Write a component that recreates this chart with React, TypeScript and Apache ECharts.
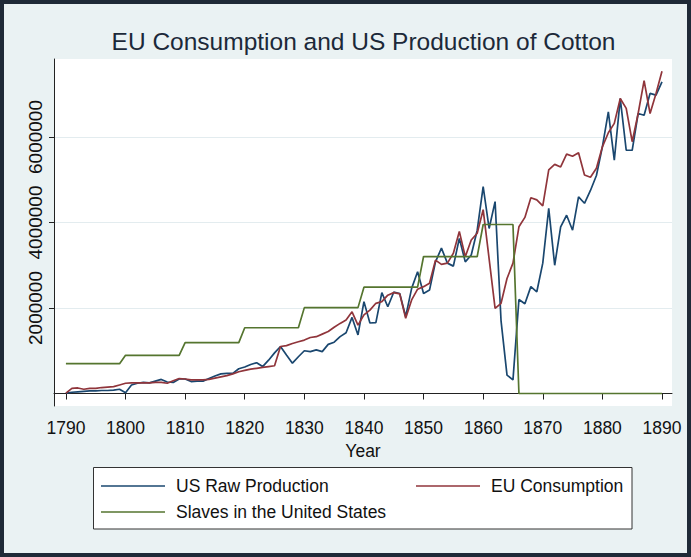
import React, { useEffect, useRef } from "react";
import * as echarts from "echarts";

const years = [
  1790, 1791, 1792, 1793, 1794, 1795, 1796, 1797, 1798, 1799,
  1800, 1801, 1802, 1803, 1804, 1805, 1806, 1807, 1808, 1809,
  1810, 1811, 1812, 1813, 1814, 1815, 1816, 1817, 1818, 1819,
  1820, 1821, 1822, 1823, 1824, 1825, 1826, 1827, 1828, 1829,
  1830, 1831, 1832, 1833, 1834, 1835, 1836, 1837, 1838, 1839,
  1840, 1841, 1842, 1843, 1844, 1845, 1846, 1847, 1848, 1849,
  1850, 1851, 1852, 1853, 1854, 1855, 1856, 1857, 1858, 1859,
  1860, 1861, 1862, 1863, 1864, 1865, 1866, 1867, 1868, 1869,
  1870, 1871, 1872, 1873, 1874, 1875, 1876, 1877, 1878, 1879,
  1880, 1881, 1882, 1883, 1884, 1885, 1886, 1887, 1888, 1889,
  1890,
];

const usRawProduction = [
  10000, 30000, 40000, 50000, 60000, 60000, 70000, 70000, 80000, 100000,
  20000, 200000, 240000, 260000, 250000, 290000, 330000, 270000, 260000, 340000,
  340000, 280000, 290000, 290000, 350000, 410000, 460000, 470000, 470000, 580000,
  620000, 680000, 720000, 630000, 780000, 950000, 1100000, 900000, 710000, 860000,
  1000000, 980000, 1020000, 980000, 1150000, 1200000, 1330000, 1420000, 1780000, 1370000,
  2150000, 1650000, 1660000, 2360000, 2030000, 2370000, 2340000, 1800000, 2460000, 2850000,
  2340000, 2420000, 3080000, 3400000, 3050000, 2980000, 3630000, 3080000, 3240000, 3820000,
  4840000, 3860000, 4490000, 1700000, 430000, 320000, 2200000, 2100000, 2500000, 2380000,
  3050000, 4330000, 3000000, 3900000, 4170000, 3820000, 4600000, 4450000, 4750000, 5100000,
  5770000, 6590000, 5460000, 6900000, 5690000, 5690000, 6550000, 6510000, 7020000, 6980000,
  7290000,
];

const euConsumption = [
  10000, 120000, 130000, 100000, 120000, 120000, 140000, 150000, 160000, 200000,
  240000, 250000, 250000, 250000, 250000, 260000, 260000, 240000, 300000, 350000,
  340000, 320000, 320000, 320000, 330000, 360000, 390000, 420000, 460000, 510000,
  540000, 570000, 590000, 610000, 630000, 650000, 1100000, 1120000, 1170000, 1210000,
  1250000, 1310000, 1330000, 1390000, 1450000, 1550000, 1640000, 1720000, 1910000, 1600000,
  1840000, 1950000, 2110000, 2150000, 2300000, 2360000, 2330000, 1760000, 2190000, 2440000,
  2500000, 2580000, 3120000, 3020000, 3050000, 3280000, 3790000, 3200000, 3590000, 3750000,
  4300000, 3150000, 1990000, 2110000, 2690000, 3050000, 3900000, 4120000, 4580000, 4530000,
  4390000, 5230000, 5360000, 5300000, 5600000, 5550000, 5630000, 5110000, 5060000, 5270000,
  5770000, 6100000, 6320000, 6900000, 6670000, 5890000, 6550000, 7320000, 6550000, 7020000,
  7540000,
];

const slaveYears = [
  1790, 1799, 1800, 1809, 1810, 1819, 1820, 1829, 1830, 1839,
  1840, 1849, 1850, 1859, 1860, 1865, 1866, 1890,
];
const slaveCounts = [
  697681, 697681, 893602, 893602, 1191362, 1191362, 1538022, 1538022, 2009043, 2009043,
  2487355, 2487355, 3204313, 3204313, 3953760, 3953760, 0, 0,
];

const xTickValues = [1790, 1800, 1810, 1820, 1830, 1840, 1850, 1860, 1870, 1880, 1890];
const yTickValues = [2000000, 4000000, 6000000];

const seriesNames = ["US Raw Production", "EU Consumption", "Slaves in the United States"];
const seriesColors = ["#1a476f", "#90353b", "#55752f"];
const titleText = "EU Consumption and US Production of Cotton";
const xAxisName = "Year";

const FONT = "'Liberation Sans', Arial, Helvetica, sans-serif";

export default function App() {
  const ref = useRef<HTMLDivElement>(null);

  useEffect(() => {
    document.body.style.margin = "0";
    const chart = echarts.init(ref.current as HTMLDivElement, null, { renderer: "svg" });

    const pair = (xs: number[], ys: number[]) => xs.map((x, i) => [x, ys[i]]);
    const plain = (v: number) => String(Math.round(v));

    chart.setOption({
      animation: false,
      backgroundColor: "#eaf2f3",
      textStyle: { fontFamily: FONT },
      grid: {
        left: 54,
        right: 19,
        top: 59,
        bottom: 151,
        show: true,
        backgroundColor: "#ffffff",
        borderWidth: 0,
      },
      xAxis: {
        type: "value",
        min: 1788,
        max: 1891.68,
        name: xAxisName,
        nameLocation: "middle",
        nameGap: 34,
        nameTextStyle: { fontSize: 17.5, color: "#111111", fontFamily: FONT },
        axisLine: { show: true, lineStyle: { color: "#222222", width: 1 } },
        axisTick: { show: true, length: 6, customValues: xTickValues, lineStyle: { color: "#222222" } },
        axisLabel: {
          customValues: xTickValues,
          formatter: plain,
          fontSize: 17.5,
          color: "#111111",
          margin: 13,
          fontFamily: FONT,
        },
        splitLine: { show: false },
      },
      yAxis: {
        type: "value",
        min: -292000,
        max: 7825000,
        axisLine: { show: true, lineStyle: { color: "#222222", width: 1 } },
        axisTick: { show: true, length: 5, customValues: yTickValues, lineStyle: { color: "#222222" } },
        axisLabel: {
          customValues: yTickValues,
          formatter: plain,
          rotate: 90,
          fontSize: 19,
          color: "#111111",
          margin: 9,
          fontFamily: FONT,
        },
        splitLine: { show: true, lineStyle: { color: "#e3ecef", width: 1.2 } },
      },
      series: [
        {
          name: seriesNames[0],
          type: "line",
          data: pair(years, usRawProduction),
          showSymbol: false,
          lineStyle: { color: seriesColors[0], width: 1.7 },
          itemStyle: { color: seriesColors[0] },
        },
        {
          name: seriesNames[1],
          type: "line",
          data: pair(years, euConsumption),
          showSymbol: false,
          lineStyle: { color: seriesColors[1], width: 1.7 },
          itemStyle: { color: seriesColors[1] },
        },
        {
          name: seriesNames[2],
          type: "line",
          data: pair(slaveYears, slaveCounts),
          showSymbol: false,
          lineStyle: { color: seriesColors[2], width: 1.7 },
          itemStyle: { color: seriesColors[2] },
        },
      ],
      graphic: [
        {
          type: "rect",
          shape: { x: 2, y: 2, width: 687, height: 553 },
          style: { fill: "none", stroke: "#1f2a37", lineWidth: 4 },
          silent: true,
        },
        {
          type: "text",
          x: 363.5,
          y: 41,
          style: {
            text: titleText,
            fontSize: 24.5,
            fontFamily: FONT,
            fill: "#1c2939",
            align: "center",
            verticalAlign: "middle",
          },
        },
        {
          type: "rect",
          shape: { x: 93.5, y: 467.5, width: 538.5, height: 61.5 },
          style: { fill: "#ffffff", stroke: "#333333", lineWidth: 1 },
          silent: true,
        },
        {
          type: "line",
          shape: { x1: 101, y1: 486, x2: 165, y2: 486 },
          style: { stroke: seriesColors[0], lineWidth: 1.7 },
        },
        {
          type: "text",
          x: 176,
          y: 486,
          style: { text: seriesNames[0], fontSize: 17.5, fontFamily: FONT, fill: "#111111", verticalAlign: "middle" },
        },
        {
          type: "line",
          shape: { x1: 416, y1: 486, x2: 480, y2: 486 },
          style: { stroke: seriesColors[1], lineWidth: 1.7 },
        },
        {
          type: "text",
          x: 491,
          y: 486,
          style: { text: seriesNames[1], fontSize: 17.5, fontFamily: FONT, fill: "#111111", verticalAlign: "middle" },
        },
        {
          type: "line",
          shape: { x1: 101, y1: 512, x2: 165, y2: 512 },
          style: { stroke: seriesColors[2], lineWidth: 1.7 },
        },
        {
          type: "text",
          x: 176,
          y: 512,
          style: { text: seriesNames[2], fontSize: 17.5, fontFamily: FONT, fill: "#111111", verticalAlign: "middle" },
        },
      ],
    });

    return () => chart.dispose();
  }, []);

  return <div ref={ref} style={{ width: 691, height: 557 }} />;
}
